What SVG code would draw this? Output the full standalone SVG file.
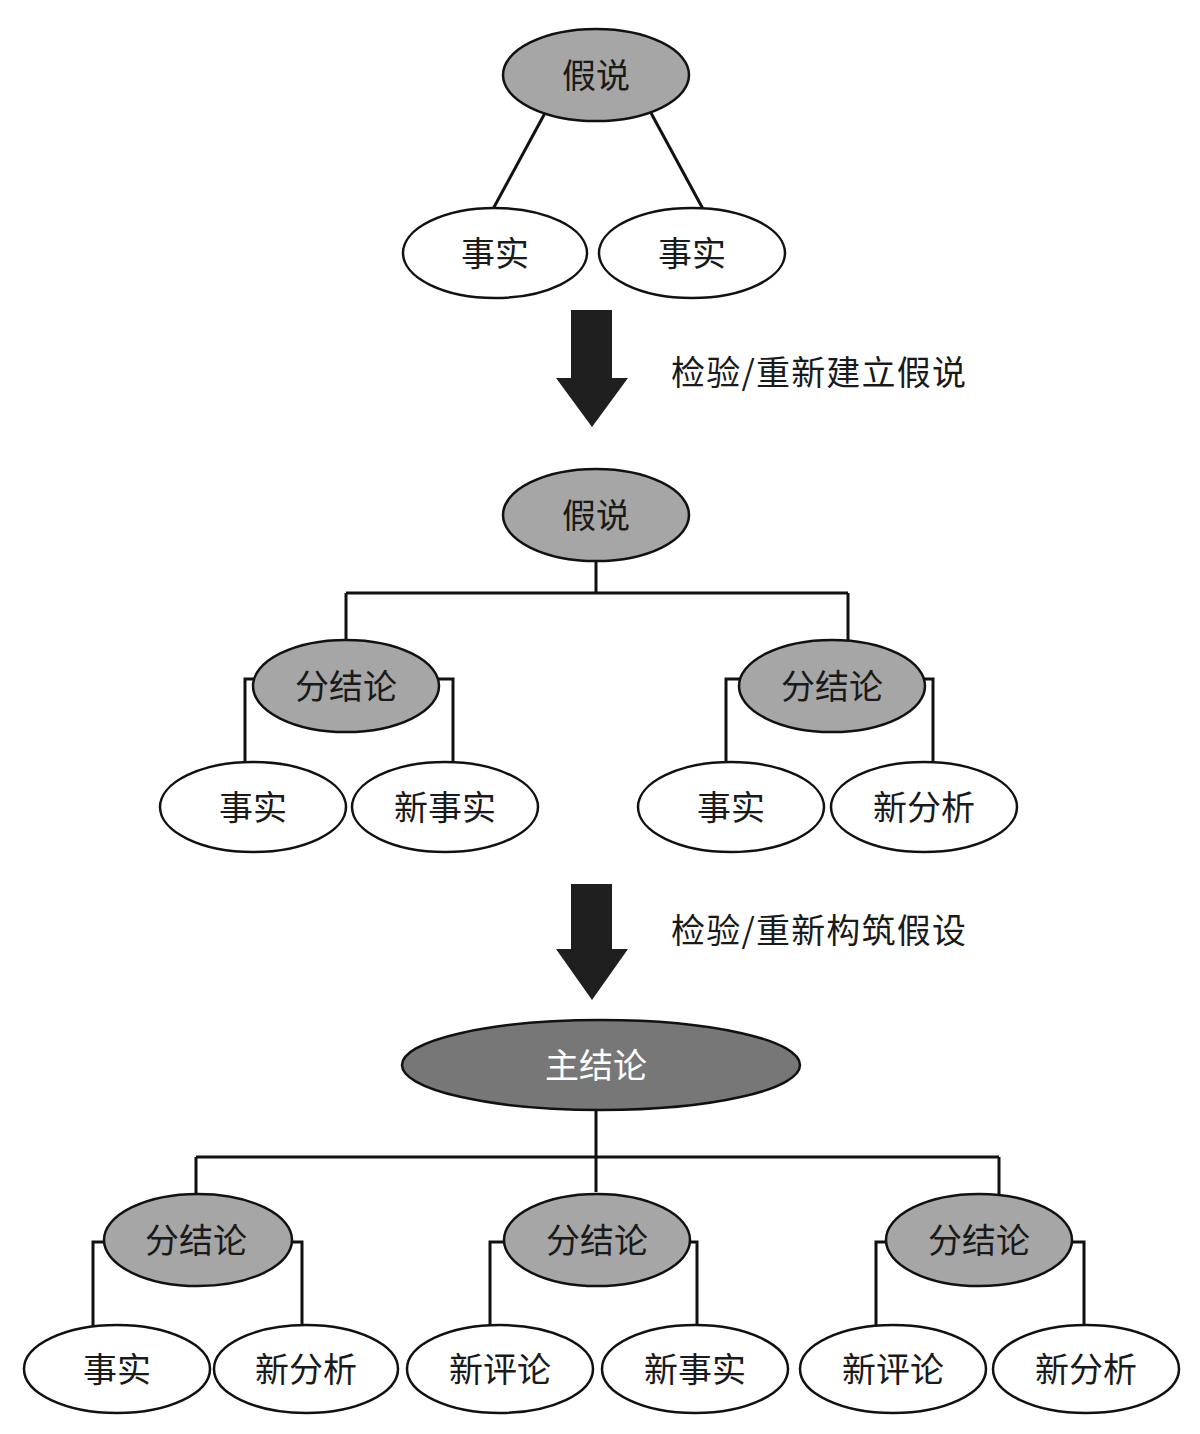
<svg xmlns="http://www.w3.org/2000/svg" width="1200" height="1434" viewBox="0 0 1200 1434">
  <style>
    .lbl { font-family: "Noto Sans CJK SC", "Noto Sans", sans-serif; font-size: 34px; text-anchor: middle; dominant-baseline: central; fill: #1a1a1a; }
    .note { font-family: "Noto Sans CJK SC", "Noto Sans", sans-serif; font-size: 34px; letter-spacing: 1.2px; fill: #1a1a1a; dominant-baseline: central; }
    .white { fill: #ffffff; stroke: #111; stroke-width: 2.5; }
    .grey { fill: #a6a6a6; stroke: #111; stroke-width: 2.5; }
    .dark { fill: #777777; stroke: #111; stroke-width: 2.5; }
    .link { fill: none; stroke: #111; stroke-width: 3; }
    .arrow { fill: #1f1f1f; }
  </style>
  <rect width="1200" height="1434" fill="#ffffff"/>

  <!-- connectors -->
  <g id="connectors">
    <line class="link" x1="545" y1="113" x2="493" y2="209"/>
    <line class="link" x1="651" y1="113" x2="703" y2="209"/>

    <path class="link" d="M596 561 V593 M346 593 H848 M346 593 V642 M848 593 V642"/>
    <path class="link" d="M262 679 H245 V763 M430 679 H453 V763"/>
    <path class="link" d="M748 679 H726 V763 M917 679 H933 V763"/>

    <path class="link" d="M596 1110 V1192 M196 1157 H999 M196 1157 V1196 M999 1157 V1196"/>
    <path class="link" d="M112 1242 H93 V1327 M284 1242 H302 V1327"/>
    <path class="link" d="M511 1242 H490 V1327 M682 1242 H697 V1327"/>
    <path class="link" d="M894 1242 H876 V1327 M1065 1242 H1084 V1327"/>

    <polygon class="arrow" points="571,310 612,310 612,378 628,378 592,427 556,378 571,378"/>
    <polygon class="arrow" points="571,884 612,884 612,949 628,949 592,1000 556,949 571,949"/>
  </g>

  <!-- step labels -->
  <text class="note" x="671" y="370">检验/重新建立假说</text>
  <text class="note" x="671" y="928">检验/重新构筑假设</text>

  <!-- stage 1 -->
  <g id="h1"><ellipse class="grey" cx="596" cy="75" rx="93" ry="46"/><text class="lbl" x="596" y="73">假说</text></g>
  <g id="h1-fact-a"><ellipse class="white" cx="495" cy="253" rx="92" ry="45"/><text class="lbl" x="495" y="251">事实</text></g>
  <g id="h1-fact-b"><ellipse class="white" cx="692" cy="253" rx="93" ry="45"/><text class="lbl" x="692" y="251">事实</text></g>

  <!-- stage 2 -->
  <g id="h2"><ellipse class="grey" cx="596" cy="515" rx="93" ry="46"/><text class="lbl" x="596" y="513">假说</text></g>
  <g id="h2-sub-a"><ellipse class="grey" cx="346" cy="686" rx="93" ry="46"/><text class="lbl" x="346" y="684">分结论</text></g>
  <g id="h2-sub-b"><ellipse class="grey" cx="832" cy="686" rx="93" ry="46"/><text class="lbl" x="832" y="684">分结论</text></g>
  <g id="h2-a-fact"><ellipse class="white" cx="253" cy="807" rx="93" ry="45"/><text class="lbl" x="253" y="805">事实</text></g>
  <g id="h2-a-newfact"><ellipse class="white" cx="445" cy="807" rx="93" ry="45"/><text class="lbl" x="445" y="805">新事实</text></g>
  <g id="h2-b-fact"><ellipse class="white" cx="731" cy="807" rx="93" ry="45"/><text class="lbl" x="731" y="805">事实</text></g>
  <g id="h2-b-newanalysis"><ellipse class="white" cx="924" cy="807" rx="93" ry="45"/><text class="lbl" x="924" y="805">新分析</text></g>

  <!-- stage 3 -->
  <g id="main"><ellipse class="dark" cx="601" cy="1065" rx="199" ry="45"/><text class="lbl" x="596" y="1063" style="fill:#ffffff">主结论</text></g>
  <g id="m-sub-a"><ellipse class="grey" cx="198" cy="1240" rx="94" ry="46"/><text class="lbl" x="196" y="1238">分结论</text></g>
  <g id="m-sub-b"><ellipse class="grey" cx="597" cy="1240" rx="93" ry="46"/><text class="lbl" x="597" y="1238">分结论</text></g>
  <g id="m-sub-c"><ellipse class="grey" cx="979" cy="1240" rx="93" ry="46"/><text class="lbl" x="979" y="1238">分结论</text></g>
  <g id="m-a-fact"><ellipse class="white" cx="117" cy="1369" rx="93" ry="44"/><text class="lbl" x="117" y="1367">事实</text></g>
  <g id="m-a-newanalysis"><ellipse class="white" cx="306" cy="1369" rx="92" ry="44"/><text class="lbl" x="306" y="1367">新分析</text></g>
  <g id="m-b-newcomment"><ellipse class="white" cx="500" cy="1369" rx="93" ry="44"/><text class="lbl" x="500" y="1367">新评论</text></g>
  <g id="m-b-newfact"><ellipse class="white" cx="695" cy="1369" rx="93" ry="44"/><text class="lbl" x="695" y="1367">新事实</text></g>
  <g id="m-c-newcomment"><ellipse class="white" cx="893" cy="1369" rx="93" ry="44"/><text class="lbl" x="893" y="1367">新评论</text></g>
  <g id="m-c-newanalysis"><ellipse class="white" cx="1086" cy="1369" rx="93" ry="44"/><text class="lbl" x="1086" y="1367">新分析</text></g>
</svg>
